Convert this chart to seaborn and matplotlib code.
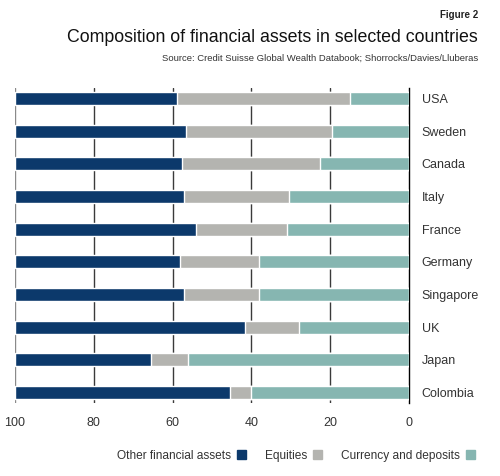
from matplotlib import pyplot as plt
from matplotlib.patches import Patch
import pandas as pd
import seaborn as sns

countries = ['USA', 'Sweden', 'Canada', 'Italy', 'France',
             'Germany', 'Singapore', 'UK', 'Japan', 'Colombia']
currency = [15.0, 19.5, 22.5, 30.5, 31.0, 38.0, 38.0, 28.0, 56.0, 40.0]
equities = [44.0, 37.0, 35.0, 26.5, 23.0, 20.0, 19.0, 13.5, 9.5, 5.5]
other = [41.0, 43.5, 42.5, 43.0, 46.0, 42.0, 43.0, 58.5, 34.5, 54.5]
xticks = [0, 20, 40, 60, 80, 100]

navy = '#0c396b'
grey = '#b4b4b0'
teal = '#86b6b1'

df = pd.DataFrame({'country': countries, 'cur': currency,
                   'eq': equities, 'oth': other})
df['cur_eq'] = df['cur'] + df['eq']
df['total'] = df['cur_eq'] + df['oth']

sns.set_style('white')
plt.rcParams['font.family'] = ['Liberation Sans', 'DejaVu Sans']

fig = plt.figure(figsize=(5, 4.76), dpi=100)
ax = fig.add_axes([0.03, 0.1534, 0.788, 0.6618])

# stacked bars drawn as cumulative totals
for col, c in [('total', navy), ('cur_eq', grey), ('cur', teal)]:
    sns.barplot(data=df, x=col, y='country', orient='h', color=c,
                saturation=1, width=0.4, ax=ax, zorder=3)

ax.set_xlim(100, 0)
ax.set_ylim(9.32, -0.32)
ax.set_xticks(xticks)
ax.set(xlabel='', ylabel='')
for x in [20, 40, 60, 80]:
    ax.axvline(x, color='#3a3a3a', lw=1.0, zorder=1)
ax.axvline(100, color='#8a8a8a', lw=1.0, zorder=1)
for s in ['top', 'left', 'bottom']:
    ax.spines[s].set_visible(False)
ax.spines['right'].set_color('black')
ax.spines['right'].set_linewidth(1.0)
ax.yaxis.tick_right()
ax.tick_params(axis='y', length=0, pad=9, labelsize=9, labelcolor='#333333')
ax.tick_params(axis='x', length=0, pad=10, labelsize=9, labelcolor='#333333')

fig.text(0.956, 0.968, 'Figure 2', ha='right', va='center',
         fontsize=7, fontweight='bold', color='#222222')
fig.text(0.956, 0.922, 'Composition of financial assets in selected countries',
         ha='right', va='center', fontsize=12.8, color='#111111')
fig.text(0.956, 0.878,
         'Source: Credit Suisse Global Wealth Databook; Shorrocks/Davies/Lluberas',
         ha='right', va='center', fontsize=6.8, color='#333333')

handles = [Patch(color=navy, label='Other financial assets'),
           Patch(color=grey, label='Equities'),
           Patch(color=teal, label='Currency and deposits')]
fig.legend(handles=handles, loc='center right', bbox_to_anchor=(0.972, 0.042),
           ncol=3, frameon=False, markerfirst=False, fontsize=8.6,
           handlelength=0.75, handleheight=0.75, columnspacing=1.6,
           handletextpad=0.5, labelcolor='#333333')

fig.savefig('out.png', dpi=100)
